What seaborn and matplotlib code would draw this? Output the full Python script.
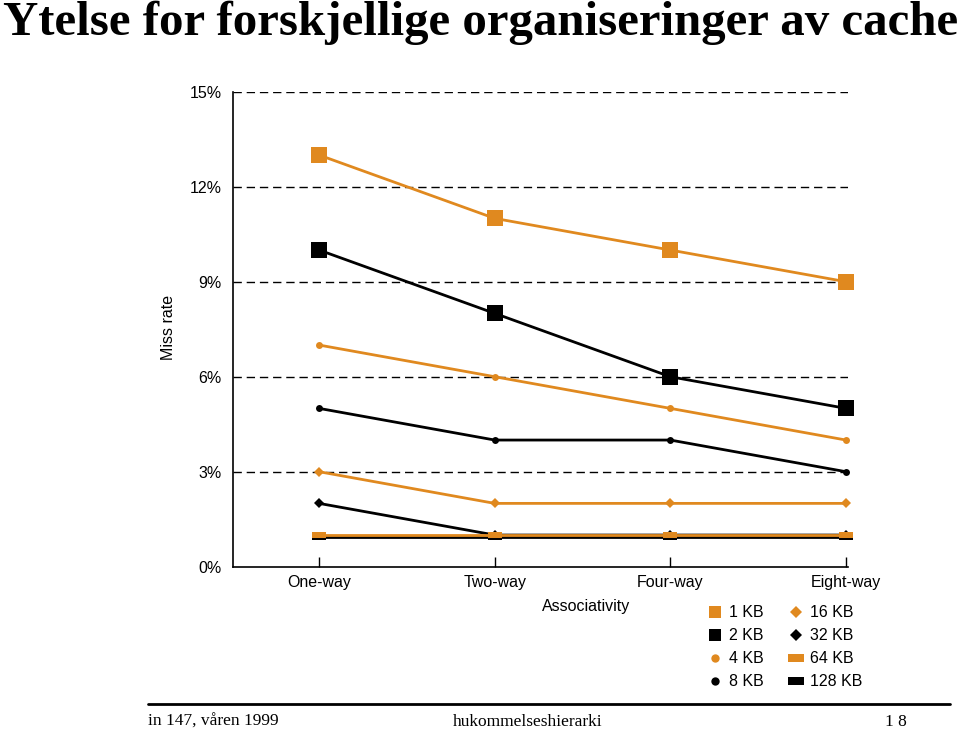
import numpy as np
import pandas as pd
import matplotlib
matplotlib.use("Agg")
import matplotlib.pyplot as plt
from matplotlib.lines import Line2D
import seaborn as sns

# ==========================================================
# DADOS
# ==========================================================
associativitet = ["One-way", "Two-way", "Four-way", "Eight-way"]
cache_storrelser = ["1 KB", "2 KB", "4 KB", "8 KB", "16 KB", "32 KB", "64 KB", "128 KB"]

miss_one_way = [13, 10, 7, 5, 3, 2, 1.0, 0.95]
miss_two_way = [11, 8, 6, 4, 2, 1, 1.0, 0.95]
miss_four_way = [10, 6, 5, 4, 2, 1, 1.0, 0.95]
miss_eight_way = [9, 5, 4, 3, 2, 1, 1.0, 0.95]

y_ticks = [0, 3, 6, 9, 12, 15]

# ==========================================================
# STIL
# ==========================================================
sns.set_theme(style="white")
plt.rcParams["font.family"] = ["Liberation Sans", "DejaVu Sans"]
plt.rcParams["text.color"] = "black"
plt.rcParams["xtick.color"] = "black"
plt.rcParams["ytick.color"] = "black"

ORANGE = "#E0891F"
BLACK = "#000000"
rect = [(-1, -0.5), (1, -0.5), (1, 0.5), (-1, 0.5), (-1, -0.5)]

stil = {
    "1 KB": dict(color=ORANGE, marker="s", ms=11),
    "2 KB": dict(color=BLACK, marker="s", ms=11),
    "4 KB": dict(color=ORANGE, marker="o", ms=5),
    "8 KB": dict(color=BLACK, marker="o", ms=5),
    "16 KB": dict(color=ORANGE, marker="D", ms=5),
    "32 KB": dict(color=BLACK, marker="D", ms=5),
    "64 KB": dict(color=ORANGE, marker=rect, ms=10),
    "128 KB": dict(color=BLACK, marker=rect, ms=10),
}

rader = []
for i, a in enumerate(associativitet):
    verdier = [miss_one_way, miss_two_way, miss_four_way, miss_eight_way][i]
    for s, v in zip(cache_storrelser, verdier):
        rader.append({"pos": i, "assoc": a, "size": s, "miss": v})
df = pd.DataFrame(rader)

# ==========================================================
# FIGUR
# ==========================================================
fig = plt.figure(figsize=(9.59, 7.32), dpi=100)
ax = fig.add_axes([0.243, 0.2258, 0.641, 0.6489])

tegne_rekkefolge = ["128 KB", "32 KB", "64 KB", "16 KB", "8 KB", "4 KB", "2 KB", "1 KB"]
for s in tegne_rekkefolge:
    st = stil[s]
    sub = df[df["size"] == s]
    sns.lineplot(data=sub, x="pos", y="miss", ax=ax, color=st["color"],
                 marker=st["marker"], markersize=st["ms"], markeredgewidth=0,
                 linewidth=2, legend=False, clip_on=False)

for y in y_ticks[1:]:
    ax.axhline(y, color="black", linestyle=(0, (6, 3.5)), linewidth=1.0, zorder=0)

ax.set_xlim(-0.49, 3.01)
ax.set_ylim(0, 15)
ax.set_yticks(y_ticks)
ax.set_yticklabels([f"{t}%" for t in y_ticks], fontsize=11.5)
ax.set_xticks(range(len(associativitet)))
ax.set_xticklabels(associativitet, fontsize=11.5)
ax.tick_params(axis="x", bottom=True, direction="in", length=7, width=1, pad=6)
ax.tick_params(axis="y", left=False, length=0, pad=8)

for side in ["top", "right"]:
    ax.spines[side].set_visible(False)
for side in ["left", "bottom"]:
    ax.spines[side].set_color("black")
    ax.spines[side].set_linewidth(1.2)

ax.set_xlabel("")
ax.set_ylabel("")
fig.text(0.611, 0.171, "Associativity", fontsize=11.5, ha="center", va="center")
fig.text(0.176, 0.553, "Miss rate", fontsize=11.5, ha="center", va="center", rotation=90)

# Legende
leg_ms = {"1 KB": 8, "2 KB": 8, "4 KB": 6, "8 KB": 6,
          "16 KB": 6, "32 KB": 6, "64 KB": 11, "128 KB": 11}
handles = [Line2D([], [], linestyle="none", color=stil[s]["color"],
                  marker=stil[s]["marker"], markersize=leg_ms[s],
                  markeredgewidth=0) for s in cache_storrelser]
fig.legend(handles, cache_storrelser, loc="upper left", bbox_to_anchor=(0.727, 0.184),
           ncol=2, frameon=False, fontsize=11.5, handlelength=1.2, handletextpad=0.3,
           columnspacing=1.4, labelspacing=0.5, borderpad=0)

# Tittel og bunntekst
serif = ["Liberation Serif", "DejaVu Serif"]
fig.text(0.003, 0.999, "Ytelse for forskjellige organiseringer av cache",
         family=serif, fontweight="bold", fontsize=35.2, ha="left", va="top")
fig.add_artist(Line2D([0.154, 0.991], [0.038, 0.038], color="black", linewidth=2,
                      transform=fig.transFigure))
fig.text(0.154, 0.014, "in 147, våren 1999", family=serif, fontsize=12.5, ha="left", va="center")
fig.text(0.55, 0.014, "hukommelseshierarki", family=serif, fontsize=12.5, ha="center", va="center")
fig.text(0.945, 0.014, "1 8", family=serif, fontsize=12.5, ha="right", va="center")

fig.savefig("out.png", dpi=100)
